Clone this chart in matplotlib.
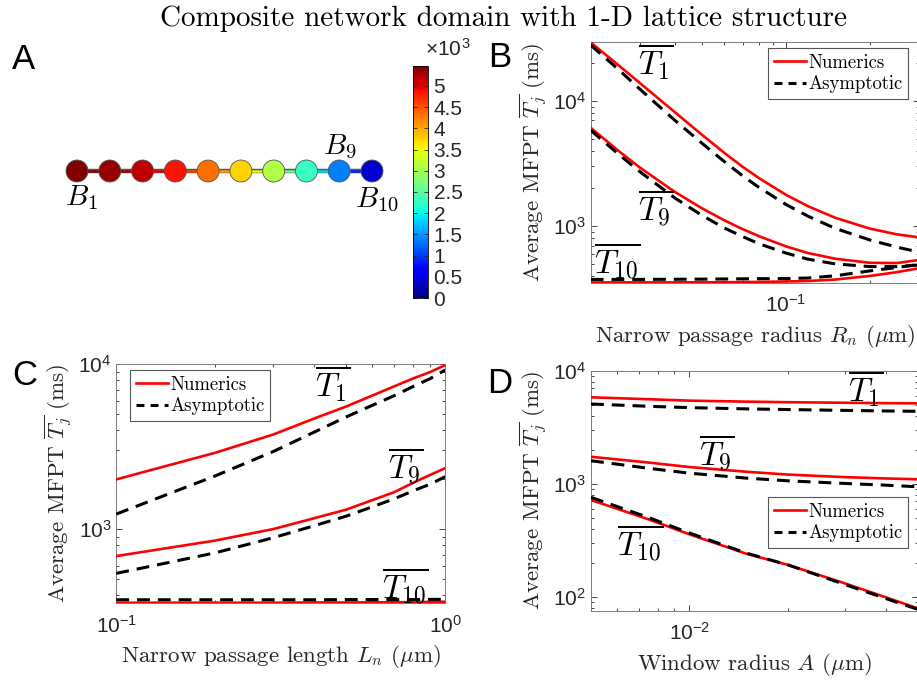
import numpy as np
import matplotlib
matplotlib.use('Agg')
import matplotlib.pyplot as plt
from matplotlib.collections import LineCollection
from matplotlib.ticker import NullFormatter

plt.rcParams['font.family'] = ['Liberation Sans', 'DejaVu Sans']
plt.rcParams['mathtext.fontset'] = 'cm'
plt.rcParams['axes.formatter.use_mathtext'] = True

# panel A: mean first passage time at each node B1..B10 (ms)
nodes = np.arange(1, 11)
node_T = [5470, 5350, 5170, 4860, 4320, 3760, 3080, 2270, 1380, 385]
cbar_ticks = np.arange(0, 5001, 500)

# panel B: narrow passage radius R_n (um)
rn = [0.02, 0.025, 0.03, 0.04, 0.05, 0.06, 0.07, 0.08, 0.1, 0.12, 0.15, 0.2, 0.25, 0.3]
b_T1_num = [29240, 19450, 13880, 8130, 5370, 3865, 2975, 2420, 1780, 1442, 1167, 955, 860, 813]
b_T1_asy = [27850, 18000, 12400, 7000, 4600, 3290, 2520, 2040, 1490, 1200, 960, 775, 680, 620]
b_T9_num = [6095, 4035, 2934, 1878, 1390, 1117, 947, 832, 690, 610, 550, 510, 508, 538]
b_T9_asy = [5830, 3800, 2720, 1680, 1220, 970, 825, 725, 610, 545, 500, 476, 476, 490]
b_T10_num = [356, 356, 356, 356, 357, 357, 358, 359, 362, 365, 375, 401, 430, 462]
b_T10_asy = [376, 376, 376, 377, 378, 379, 380, 381, 382, 386, 402, 440, 468, 496]

# panel C: narrow passage length L_n (um)
ln = [0.1, 0.2, 0.3, 0.4, 0.5, 0.6, 0.7, 0.8, 0.9, 1.0]
c_T1_num = [2000, 2900, 3740, 4680, 5530, 6440, 7330, 8190, 8940, 9860]
c_T1_asy = [1233, 2100, 2950, 3870, 4780, 5620, 6430, 7320, 8160, 9200]
c_T9_num = [686, 852, 1000, 1164, 1312, 1497, 1675, 1910, 2130, 2340]
c_T9_asy = [539, 718, 886, 1048, 1198, 1364, 1526, 1707, 1872, 2077]
c_T10_num = [358, 358, 358, 359, 359, 360, 360, 361, 362, 363]
c_T10_asy = [373, 373, 373, 373, 374, 374, 374, 374, 375, 375]

# panel D: window radius A (um)
wa = [0.005, 0.0075, 0.01, 0.015, 0.02, 0.03, 0.04, 0.05]
d_T1_num = [5820, 5600, 5440, 5330, 5270, 5210, 5170, 5150]
d_T1_asy = [5080, 4850, 4720, 4600, 4540, 4460, 4410, 4380]
d_T9_num = [1738, 1545, 1410, 1280, 1210, 1148, 1118, 1099]
d_T9_asy = [1603, 1375, 1245, 1125, 1066, 1010, 975, 944]
d_T10_num = [721, 487, 359, 241, 193, 132, 99.4, 79.6]
d_T10_asy = [762, 505, 369, 244, 193, 129, 97, 78]

W, H = 917.0, 681.0
fig = plt.figure(figsize=(W / 100, H / 100), dpi=100)
CM = ['cmr10', 'DejaVu Serif']
GRAY = '#262626'


def px_axes(l, r, t, b):
    return fig.add_axes([l / W, 1 - b / H, (r - l) / W, (b - t) / H])


def style_axes(ax):
    ax.set_xscale('log')
    ax.set_yscale('log')
    ax.tick_params(which='both', direction='in', top=True, right=True,
                   colors=GRAY, labelsize=15, width=0.6)
    ax.tick_params(which='major', length=4)
    ax.tick_params(which='minor', length=2.2)
    ax.tick_params(axis='x', which='both', pad=8)
    ax.xaxis.set_minor_formatter(NullFormatter())
    ax.yaxis.set_minor_formatter(NullFormatter())
    for s in ax.spines.values():
        s.set_color('#7a7a7a')
        s.set_linewidth(0.7)


def draw_curves(ax, x, num, asy):
    for y in num:
        ax.plot(x, y, color='red', lw=1.9, zorder=3)
    for y in asy:
        ax.plot(x, y, color='black', lw=2.2, dashes=(4.2, 2.6), zorder=4)


def add_legend(ax, x0, y0):
    h1, = ax.plot([], [], color='red', lw=1.9)
    h2, = ax.plot([], [], color='black', lw=2.2, dashes=(2.6, 2.0))
    leg = ax.legend([h1, h2], ['Numerics', 'Asymptotic'], loc='upper left',
                    bbox_to_anchor=(x0 / W, 1 - y0 / H), bbox_transform=fig.transFigure,
                    borderaxespad=0, fancybox=False, framealpha=1, edgecolor='#555555',
                    prop={'family': CM, 'size': 13.5}, handlelength=1.7,
                    handletextpad=0.15, labelspacing=0.2, borderpad=0.3)
    leg.get_frame().set_linewidth(0.8)


def labels(ax, xlabel):
    ax.set_xlabel(xlabel, family=CM, fontsize=16.5, color=GRAY, labelpad=5)
    ax.set_ylabel(r'Average MFPT $\overline{T_j}$ (ms)', family=CM, fontsize=16.5,
                  color=GRAY, labelpad=3)


def tlabel(ax, fx, fy, s):
    ax.text(fx, fy, s, transform=ax.transAxes, ha='center', va='center',
            fontsize=24, zorder=6)


fig.text(503 / W, 1 - 26 / H, 'Composite network domain with 1-D lattice structure',
         family=CM, fontsize=21, ha='center', va='baseline')

# ---- A
axA = px_axes(0, 405, 36, 320)
axA.axis('off')
axA.set_xlim(1 - 77 / 32.78, 1 + (405 - 77) / 32.78)
axA.set_ylim(-149, 135)
pts = np.column_stack([nodes, np.zeros(len(nodes))])
segs = np.stack([pts[:-1], pts[1:]], axis=1)
mids = [(node_T[i] + node_T[i + 1]) / 2 for i in range(len(nodes) - 1)]
axA.add_collection(LineCollection(segs, colors='#555555', linewidths=3.2, zorder=1))
lc = LineCollection(segs, cmap='jet', linewidths=1.8, zorder=2)
lc.set_array(np.array(mids))
lc.set_clim(0, max(node_T))
axA.add_collection(lc)
sc = axA.scatter(nodes, np.zeros(len(nodes)), c=node_T, cmap='jet', vmin=0,
                 vmax=max(node_T), s=250, edgecolors='#555555', linewidths=0.6, zorder=3)
axA.text(1.12, -27, r'$B_1$', fontsize=21, ha='center', va='center')
axA.text(9.02, 24, r'$B_9$', fontsize=21, ha='center', va='center')
axA.text(10.15, -29, r'$B_{10}$', fontsize=21, ha='center', va='center')

cax = px_axes(413, 428, 66, 298)
cb = fig.colorbar(sc, cax=cax)
cb.set_ticks(cbar_ticks)
cb.set_ticklabels(['%g' % (v / 1000) for v in cbar_ticks])
cb.outline.set_linewidth(0.6)
cax.tick_params(direction='in', left=True, right=True, length=3, width=0.6,
                labelsize=15, colors=GRAY, pad=4)
fig.text(448 / W, 1 - 50 / H, u'\u00d710$^{\\mathdefault{3}}$', fontsize=15,
         ha='center', va='center', color=GRAY)

# ---- B
axB = px_axes(590.7, 919.3, 42, 283)
style_axes(axB)
draw_curves(axB, rn, [b_T1_num, b_T9_num, b_T10_num], [b_T1_asy, b_T9_asy, b_T10_asy])
axB.set_xlim(0.02, 0.3)
axB.set_ylim(352, 29500)
labels(axB, r'Narrow passage radius $R_n$ ($\mu$m)')
add_legend(axB, 768, 48)
tlabel(axB, 0.199, 0.917, r'$\overline{T_1}$')
tlabel(axB, 0.199, 0.311, r'$\overline{T_9}$')
tlabel(axB, 0.080, 0.095, r'$\overline{T_{10}}$')

# ---- C
axC = px_axes(116.3, 445.3, 364, 603.3)
style_axes(axC)
draw_curves(axC, ln, [c_T1_num, c_T9_num, c_T10_num], [c_T1_asy, c_T9_asy, c_T10_asy])
axC.set_xlim(0.1, 1.0)
axC.set_ylim(355, 1e4)
labels(axC, r'Narrow passage length $L_n$ ($\mu$m)')
add_legend(axC, 130, 370)
tlabel(axC, 0.659, 0.916, r'$\overline{T_1}$')
tlabel(axC, 0.880, 0.574, r'$\overline{T_9}$')
tlabel(axC, 0.880, 0.076, r'$\overline{T_{10}}$')

# ---- D
axD = px_axes(591, 918, 370.7, 610.7)
style_axes(axD)
draw_curves(axD, wa, [d_T1_num, d_T9_num, d_T10_num], [d_T1_asy, d_T9_asy, d_T10_asy])
axD.set_xlim(0.005, 0.05)
axD.set_ylim(76, 1e4)
labels(axD, r'Window radius $A$ ($\mu$m)')
add_legend(axD, 768, 497)
tlabel(axD, 0.839, 0.924, r'$\overline{T_1}$')
tlabel(axD, 0.383, 0.661, r'$\overline{T_9}$')
tlabel(axD, 0.150, 0.282, r'$\overline{T_{10}}$')

for letter, x, y in [('A', 12, 69), ('B', 488, 67), ('C', 12, 385), ('D', 487, 393)]:
    fig.text(x / W, 1 - y / H, letter, fontsize=25, va='baseline', ha='left')

fig.savefig('out.png', dpi=100)
